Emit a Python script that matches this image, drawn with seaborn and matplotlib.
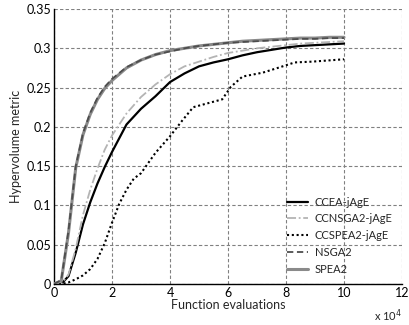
import numpy as np
import pandas as pd
import matplotlib
matplotlib.use("Agg")
import matplotlib.pyplot as plt
import seaborn as sns
from matplotlib.ticker import FuncFormatter

# Function evaluations at which the hypervolume was recorded
evals = [0, 2500, 5000, 7500, 10000, 12500, 15000, 17500, 20000, 25000, 30000,
         35000, 40000, 45000, 50000, 55000, 60000, 65000, 70000, 75000, 80000,
         85000, 90000, 95000, 100000]

ccea_jage = [0.0, 0.0, 0.010, 0.040, 0.076, 0.104, 0.128, 0.149, 0.168, 0.203, 0.223,
             0.239, 0.257, 0.268, 0.277, 0.282, 0.286, 0.291, 0.295, 0.298, 0.301,
             0.303, 0.304, 0.305, 0.306]
ccnsga2_jage = [0.0, 0.0, 0.012, 0.045, 0.088, 0.120, 0.147, 0.171, 0.189, 0.217, 0.238,
                0.254, 0.267, 0.277, 0.283, 0.289, 0.294, 0.297, 0.300, 0.302, 0.304,
                0.306, 0.307, 0.308, 0.309]
nsga2 = [0.0, 0.005, 0.068, 0.150, 0.192, 0.218, 0.237, 0.251, 0.261, 0.276, 0.285,
         0.292, 0.296, 0.300, 0.303, 0.305, 0.307, 0.308, 0.309, 0.310, 0.311,
         0.312, 0.312, 0.313, 0.313]
spea2 = [0.0, 0.004, 0.065, 0.148, 0.190, 0.216, 0.235, 0.249, 0.259, 0.275, 0.285,
         0.292, 0.297, 0.300, 0.303, 0.305, 0.307, 0.309, 0.310, 0.311, 0.312,
         0.313, 0.313, 0.314, 0.314]

# CCSPEA2-jAgE was logged on its own schedule
evals_ccspea2 = [0, 2500, 5000, 7500, 10000, 12500, 15000, 17500, 20000, 22500, 25000,
                 27500, 30000, 32500, 35000, 40000, 44000, 48000, 52000, 58000, 61000,
                 65000, 72000, 78000, 83000, 89000, 100000]
ccspea2_jage = [0.0, 0.0, 0.002, 0.006, 0.011, 0.019, 0.032, 0.052, 0.078, 0.102, 0.120,
                0.134, 0.141, 0.154, 0.167, 0.188, 0.207, 0.225, 0.229, 0.235, 0.251,
                0.264, 0.269, 0.276, 0.282, 0.283, 0.286]

algorithms = ["CCEA-jAgE", "CCNSGA2-jAgE", "CCSPEA2-jAgE", "NSGA2", "SPEA2"]

frames = [
    pd.DataFrame({"evals": evals, "hv": ccea_jage, "alg": "CCEA-jAgE"}),
    pd.DataFrame({"evals": evals, "hv": ccnsga2_jage, "alg": "CCNSGA2-jAgE"}),
    pd.DataFrame({"evals": evals_ccspea2, "hv": ccspea2_jage, "alg": "CCSPEA2-jAgE"}),
    pd.DataFrame({"evals": evals, "hv": nsga2, "alg": "NSGA2"}),
    pd.DataFrame({"evals": evals, "hv": spea2, "alg": "SPEA2"}),
]
df = pd.concat(frames, ignore_index=True)

sns.set_style("white")
plt.rcParams["font.family"] = ["Lato", "DejaVu Sans"]
FS = 9

styles = {
    "CCEA-jAgE": dict(color="#000000", ls="-", lw=1.6, z=3),
    "CCNSGA2-jAgE": dict(color="#b4b4b4", ls=(0, (5, 1.5, 1, 1.5)), lw=1.3, z=3),
    "CCSPEA2-jAgE": dict(color="#000000", ls=(0, (1, 1.3)), lw=1.5, z=3),
    "NSGA2": dict(color="#4d4d4d", ls=(0, (3.5, 2)), lw=1.3, z=5),
    "SPEA2": dict(color="#8a8a8a", ls="-", lw=2.2, z=4),
}

fig = plt.figure(figsize=(4.1, 3.25), dpi=100)
ax = fig.add_axes([54 / 410, 1 - 284 / 325, 348 / 410, 275 / 325])

for alg in algorithms:
    st = styles[alg]
    sns.lineplot(data=df[df["alg"] == alg], x="evals", y="hv", ax=ax,
                 color=st["color"], linewidth=st["lw"], label=alg,
                 estimator=None, sort=False, zorder=st["z"])
    ax.lines[-1].set_linestyle(st["ls"])

ax.set_xlim(0, 120000)
ax.set_ylim(0, 0.35)
ax.set_xticks(np.arange(0, 120001, 20000))
ax.set_yticks(np.arange(0, 0.351, 0.05))
ax.xaxis.set_major_formatter(FuncFormatter(lambda v, p: f"{v / 1e4:g}"))
ax.yaxis.set_major_formatter(FuncFormatter(lambda v, p: f"{v:g}"))

ax.grid(True, color="#808080", linestyle=(0, (3, 2)), linewidth=0.8)
ax.set_axisbelow(True)
for side in ("top", "right"):
    ax.spines[side].set_visible(False)
for side in ("left", "bottom"):
    ax.spines[side].set_color("black")
    ax.spines[side].set_linewidth(1.0)
ax.tick_params(direction="in", length=3, width=0.7, colors="black",
               labelsize=FS, pad=2)

ax.set_xlabel("Function evaluations", fontsize=FS, labelpad=0)
ax.set_ylabel("Hypervolume metric", fontsize=FS, labelpad=3)
ax.text(1.0, -0.085, "x 10$^{4}$", transform=ax.transAxes, ha="right",
        va="top", fontsize=8)

leg = ax.legend(loc="upper left", bbox_to_anchor=(0.6695, 0.318), frameon=False,
                fontsize=8, handlelength=1.9, handletextpad=0.6,
                labelspacing=0.52, borderaxespad=0, borderpad=0)
for h, alg in zip(leg.get_lines(), algorithms):
    h.set_linestyle(styles[alg]["ls"])

fig.savefig("out.png", dpi=100)
